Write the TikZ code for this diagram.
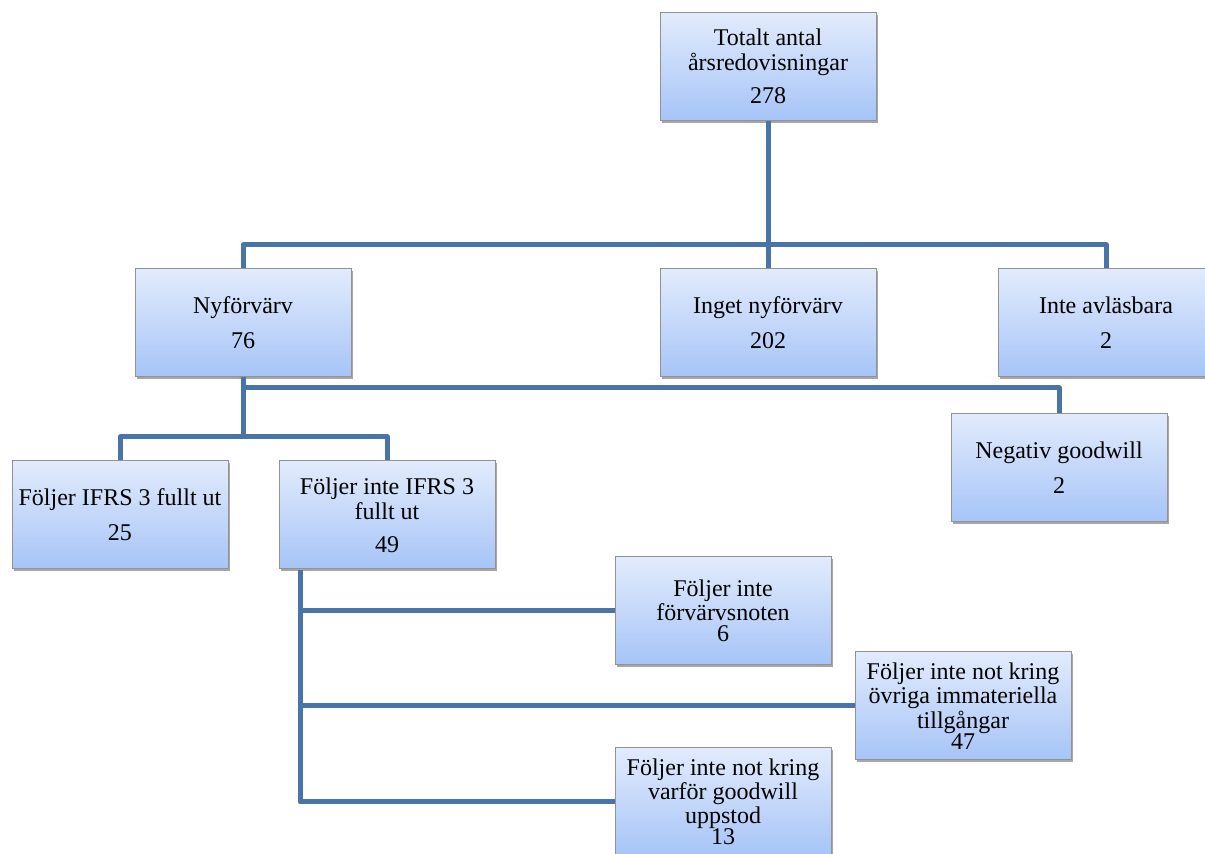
\documentclass[tikz,border=0pt]{standalone}
\usepackage{fontspec}
\setmainfont{Liberation Serif}
\usetikzlibrary{positioning,shadows}
\definecolor{linkblue}{RGB}{73,116,168}
\definecolor{boxtop}{RGB}{226,235,252}
\definecolor{boxbot}{RGB}{166,196,247}

\begin{document}
\begin{tikzpicture}[x=0.5pt,y=-0.5pt,
                    box/.style={rectangle,draw=gray!85,line width=0.5pt,top color=boxtop,bottom color=boxbot,
                                minimum width=108pt,minimum height=54pt,inner sep=0pt,align=center,
                                font=\fontsize{12}{12.5}\selectfont,
                                drop shadow={shadow xshift=0.8pt,shadow yshift=-1.2pt,opacity=0.35,fill=black}},
                    tight/.style={box,font=\fontsize{12}{10.5}\selectfont},
                    link/.style={draw=linkblue,line width=2.5pt,line join=round}]
  \useasboundingbox[fill=white] (0,0) rectangle (1205,854);
  \node[box] (tot)    at (768,66.5) {Totalt antal\\årsredovisningar\\[4pt]278};
  \node[box] (ny)     at (243,323)  {Nyförvärv\\[5pt]76};
  \node[box] (inget)  at (768,323)  {Inget nyförvärv\\[5pt]202};
  \node[box] (inte)   at (1106,323) {Inte avläsbara\\[5pt]2};
  \node[box] (neg)    at (1059,467.5) {Negativ goodwill\\[5pt]2};
  \node[box] (ifrs)   at (120,515)  {Följer IFRS 3 fullt ut\\[5pt]25};
  \node[box] (ejifrs) at (387,515)  {Följer inte IFRS 3\\fullt ut\\[4pt]49};
  \node[tight] (notfv) at (723,611) {Följer inte\\förvärvsnoten\\6};
  \node[tight] (ovr)   at (963,706) {Följer inte not kring\\övriga immateriella\\tillgångar\\47};
  \node[tight] (varf)  at (723,802) {Följer inte not kring\\varför goodwill\\uppstod\\13};
  \coordinate (j1) at (768,245);
  \coordinate (j2) at (243,388);
  \coordinate (j3) at (243,437);
  \coordinate (j4) at (300,570);
  \begin{scope}[on background layer/.try]
  \draw[link] (tot) -- (j1) (ny.north) |- (j1) -| (inte.north) (j1) -- (inget.north);
  \draw[link] (ny.south) -- (j3) (j2) -| (neg.north) (ifrs.north) |- (j3) -| (ejifrs.north);
  \draw[link] (j4) |- (notfv.west) (j4) |- (ovr.west) (j4) |- (varf.west);
  \end{scope}
\end{tikzpicture}
\end{document}
